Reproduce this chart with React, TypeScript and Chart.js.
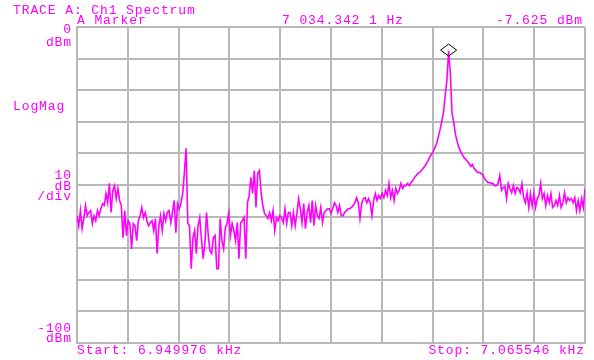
import React, { useEffect, useRef } from "react";
import { Chart, registerables } from "chart.js";

Chart.register(...registerables);

// Sweep definition (Hz)
const START_HZ = 6949.976;
const STOP_HZ = 7065.546;

// Vertical scale: reference level and dB per division
const REF_DBM = 0;
const BOTTOM_DBM = -100;
const DB_PER_DIV = 10;

// Measured spectrum, one value per sweep point (dBm)
const TRACE_DBM: number[] = [
  -59.7, -62.9, -58.1, -63.8, -60.6, -56.5, -59.7, -58.7, -58.1, -62.2,
  -59.7, -61.3, -58.1, -59.7, -57.5, -55.9, -56.5, -52.7, -55.6, -49.5,
  -58.7, -51.7, -50.2, -54.3, -51.1, -54.9, -56.5, -66.7, -58.1, -66.0,
  -61.3, -62.2, -70.2, -62.2, -62.9, -67.6, -61.3, -59.7, -57.1, -60.3,
  -58.7, -61.3, -62.9, -61.9, -61.3, -64.4, -60.6, -71.7, -62.9, -59.7,
  -64.4, -59.0, -61.3, -58.7, -58.1, -61.9, -58.7, -54.9, -65.1, -55.9,
  -57.5, -55.6, -52.7, -46.0, -38.4, -62.2, -62.9, -76.5, -66.7, -64.4,
  -71.7, -62.9, -60.3, -67.0, -73.3, -68.6, -58.7, -66.0, -70.8, -71.7,
  -66.7, -66.0, -76.5, -76.5, -60.6, -67.6, -70.2, -63.5, -62.2, -58.7,
  -66.0, -62.2, -64.4, -67.6, -61.9, -73.3, -61.9, -61.3, -60.3, -73.3,
  -55.6, -53.3, -47.6, -52.7, -45.4, -57.1, -46.3, -45.4, -52.4, -56.5,
  -59.0, -59.7, -60.6, -58.7, -61.3, -58.1, -64.4, -60.3, -61.3, -59.7,
  -60.3, -61.9, -57.5, -62.2, -58.7, -58.7, -62.9, -58.7, -62.9, -59.0,
  -54.3, -57.5, -61.9, -55.9, -63.8, -58.7, -56.5, -61.9, -54.9, -62.9,
  -56.5, -59.7, -60.6, -57.1, -61.9, -58.7, -58.1, -57.5, -57.5, -59.0,
  -57.5, -55.6, -56.5, -58.7, -56.5, -59.7, -59.7, -58.7, -58.1, -57.5,
  -57.5, -57.1, -56.5, -55.6, -54.0, -55.6, -60.6, -55.9, -54.3, -54.0,
  -55.6, -54.3, -55.6, -59.7, -54.9, -52.7, -54.9, -53.3, -54.3, -52.7,
  -54.0, -51.7, -53.3, -49.5, -54.0, -51.7, -54.9, -51.1, -52.7, -51.7,
  -49.5, -51.1, -50.2, -50.2, -49.5, -50.2, -49.2, -48.6, -47.6, -47.0,
  -46.3, -46.0, -45.4, -44.8, -44.1, -43.2, -42.2, -41.0, -40.3, -39.4,
  -38.1, -36.8, -34.6, -32.4, -29.8, -27.0, -21.6, -16.8, -7.625, -14.6,
  -27.3, -30.2, -34.0, -36.2, -38.1, -39.4, -40.3, -41.3, -41.9, -42.5,
  -43.2, -44.1, -43.5, -44.8, -45.4, -46.0, -46.0, -46.3, -46.7, -47.9,
  -48.6, -49.2, -49.2, -49.5, -49.5, -50.2, -50.2, -49.5, -47.0, -51.7,
  -50.8, -50.5, -54.3, -49.5, -51.1, -52.4, -50.2, -52.7, -50.8, -51.1,
  -52.4, -49.5, -54.0, -55.6, -52.4, -57.1, -52.7, -56.5, -52.7, -57.1,
  -54.3, -53.3, -49.5, -54.3, -52.7, -56.5, -53.3, -55.6, -52.7, -57.1,
  -56.5, -54.9, -56.5, -53.3, -57.1, -55.6, -52.4, -55.6, -54.0, -54.9,
  -54.3, -55.6, -54.0, -58.1, -54.9, -58.1, -54.3, -57.1, -51.1,
];

// Marker readout
const MARKER_INDEX = 218;
const MARKER_FREQ_TEXT = "7 034.342 1 Hz";
const MARKER_LEVEL_TEXT = "-7.625 dBm";

// Annotation text
const TITLE_TEXT = "TRACE A: Ch1 Spectrum";
const MARKER_TITLE = "A Marker";
const FORMAT_TEXT = "LogMag";
const SCALE_TEXT = ["10", "dB", "/div"];
const TOP_TEXT = ["0", "dBm"];
const BOTTOM_TEXT = ["-100", "dBm"];
const START_TEXT = "Start: 6.949976 kHz";
const STOP_TEXT = "Stop: 7.065546 kHz";

const TRACE_COLOR = "#ff00ff";
const GRID_COLOR = "#b8b8b8";
const FONT = "13px 'Liberation Mono', 'DejaVu Sans Mono', monospace";

const N = TRACE_DBM.length;
const stepHz = (STOP_HZ - START_HZ) / (N - 1);
const points = TRACE_DBM.map((v, i) => ({ x: START_HZ + i * stepHz, y: v }));

const annotationPlugin = {
  id: "analyzerText",
  afterDraw(chart: any) {
    const { ctx, chartArea, scales } = chart;
    const xs = scales.x;
    const ys = scales.y;
    ctx.save();
    ctx.fillStyle = TRACE_COLOR;
    ctx.font = FONT;
    (ctx as any).letterSpacing = "0.9px";
    ctx.textBaseline = "alphabetic";

    const left = chartArea.left;
    const right = chartArea.right;
    const labelRight = left - 5;

    ctx.textAlign = "left";
    ctx.fillText(TITLE_TEXT, 13, 14);
    ctx.fillText(MARKER_TITLE, left, 24);
    ctx.fillText(FORMAT_TEXT, 13, 110);
    ctx.fillText(START_TEXT, left, 354);
    ctx.fillText(MARKER_FREQ_TEXT, 282, 24);

    ctx.textAlign = "right";
    ctx.fillText(MARKER_LEVEL_TEXT, right - 2, 24);
    ctx.fillText(STOP_TEXT, right, 354);
    ctx.fillText(TOP_TEXT[0], labelRight, 33);
    ctx.fillText(TOP_TEXT[1], labelRight, 46);
    ctx.fillText(SCALE_TEXT[0], labelRight, 179);
    ctx.fillText(SCALE_TEXT[1], labelRight, 189.5);
    ctx.fillText(SCALE_TEXT[2], labelRight, 200);
    ctx.fillText(BOTTOM_TEXT[0], labelRight, 332);
    ctx.fillText(BOTTOM_TEXT[1], labelRight, 342);

    // Marker diamond at the peak
    const mp = points[MARKER_INDEX];
    const mx = xs.getPixelForValue(mp.x);
    const my = ys.getPixelForValue(mp.y) - 1;
    ctx.strokeStyle = "#000000";
    ctx.lineWidth = 1;
    ctx.beginPath();
    ctx.moveTo(mx, my - 6);
    ctx.lineTo(mx + 8, my);
    ctx.lineTo(mx, my + 6);
    ctx.lineTo(mx - 8, my);
    ctx.closePath();
    ctx.stroke();
    ctx.restore();
  },
};

export default function App() {
  const canvasRef = useRef<HTMLCanvasElement | null>(null);

  useEffect(() => {
    const canvas = canvasRef.current;
    if (!canvas) return;
    const divTicks = (min: number, max: number) =>
      Array.from({ length: 11 }, (_, k) => ({ value: min + (k * (max - min)) / 10 }));

    const chart = new Chart(canvas, {
      type: "line",
      data: {
        datasets: [
          {
            data: points,
            borderColor: TRACE_COLOR,
            borderWidth: 1.6,
            pointRadius: 0,
            tension: 0,
            fill: false,
          },
        ],
      },
      options: {
        responsive: false,
        animation: false,
        devicePixelRatio: 1,
        layout: { padding: { left: 77, right: 9, top: 27, bottom: 17 } },
        plugins: { legend: { display: false }, tooltip: { enabled: false } },
        scales: {
          x: {
            type: "linear",
            min: START_HZ,
            max: STOP_HZ,
            afterBuildTicks: (s: any) => {
              s.ticks = divTicks(START_HZ, STOP_HZ);
            },
            ticks: { display: false },
            grid: { color: GRID_COLOR, lineWidth: 2, drawTicks: false, tickLength: 0 },
            border: { display: true, color: GRID_COLOR, width: 2 },
          },
          y: {
            type: "linear",
            min: BOTTOM_DBM,
            max: REF_DBM,
            ticks: { display: false, stepSize: DB_PER_DIV },
            grid: { color: GRID_COLOR, lineWidth: 2, drawTicks: false, tickLength: 0 },
            border: { display: true, color: GRID_COLOR, width: 2 },
          },
        },
      },
      plugins: [annotationPlugin],
    });
    return () => chart.destroy();
  }, []);

  return (
    <div style={{ position: "fixed", left: 0, top: 0, width: 594, height: 360, background: "#ffffff" }}>
      <canvas ref={canvasRef} width={594} height={360} style={{ display: "block" }} />
    </div>
  );
}
